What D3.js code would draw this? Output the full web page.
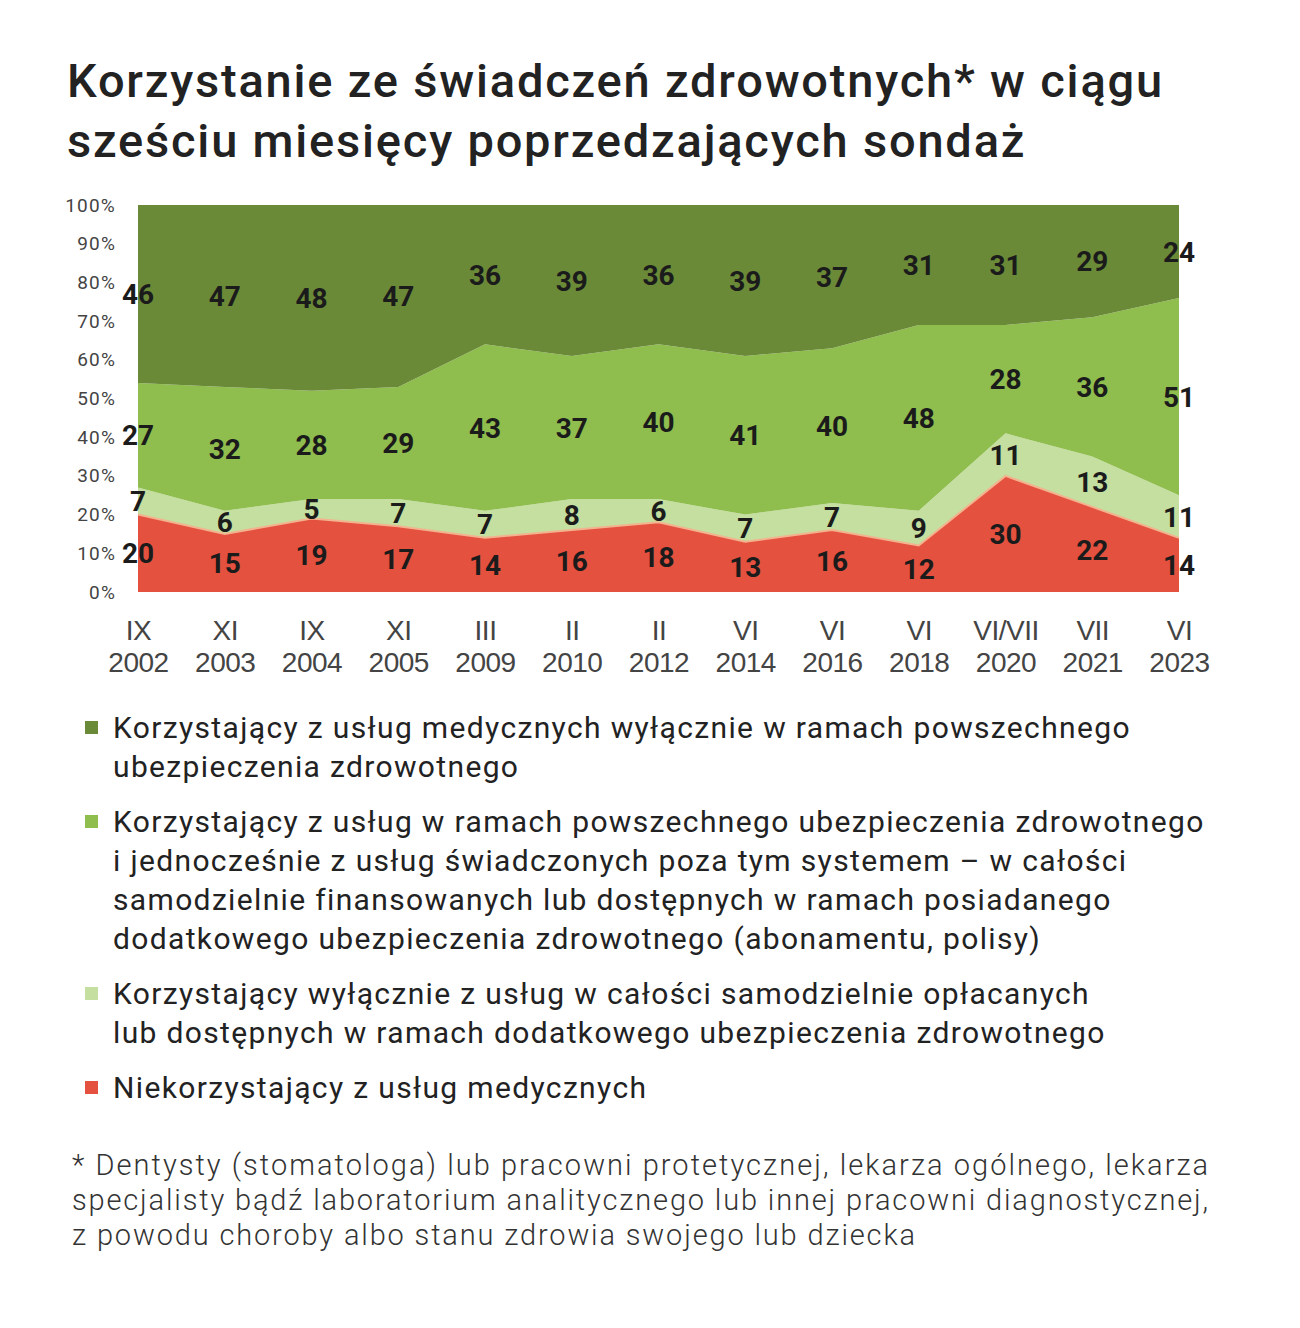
<!DOCTYPE html>
<html>
<head>
<meta charset="utf-8">
<script src="https://cdn.jsdelivr.net/npm/d3@7"></script>
<style>
  body { margin: 0; background: #fff; }
  svg { display: block; font-family: Roboto, "Noto Sans", sans-serif; }
</style>
</head>
<body>
<div id="chart"></div>
<script>
// survey waves (month + year)
var months = ["IX", "XI", "IX", "XI", "III", "II", "II", "VI", "VI", "VI", "VI/VII", "VII", "VI"];
var years = ["2002", "2003", "2004", "2005", "2009", "2010", "2012", "2014", "2016", "2018", "2020", "2021", "2023"];

// shares in %, bottom to top of the stack
var nonUsers = [20, 15, 19, 17, 14, 16, 18, 13, 16, 12, 30, 22, 14];
var privateOnly = [7, 6, 5, 7, 7, 8, 6, 7, 7, 9, 11, 13, 11];
var mixed = [27, 32, 28, 29, 43, 37, 40, 41, 40, 48, 28, 36, 51];
var publicOnly = [46, 47, 48, 47, 36, 39, 36, 39, 37, 31, 31, 29, 24];

var yTicks = [0, 10, 20, 30, 40, 50, 60, 70, 80, 90, 100];

var keys = ["nonUsers", "privateOnly", "mixed", "publicOnly"];
var colors = {
    nonUsers: "#e4513f",
    privateOnly: "#c4df9f",
    mixed: "#8fbd4e",
    publicOnly: "#6a8a38"
};

var legendItems = [
    { key: "publicOnly", lines: ["Korzystający z usług medycznych wyłącznie w ramach powszechnego", "ubezpieczenia zdrowotnego"] },
    { key: "mixed", lines: ["Korzystający z usług w ramach powszechnego ubezpieczenia zdrowotnego",
        "i jednocześnie z usług świadczonych poza tym systemem – w całości",
        "samodzielnie finansowanych lub dostępnych w ramach posiadanego",
        "dodatkowego ubezpieczenia zdrowotnego (abonamentu, polisy)"] },
    { key: "privateOnly", lines: ["Korzystający wyłącznie z usług w całości samodzielnie opłacanych",
        "lub dostępnych w ramach dodatkowego ubezpieczenia zdrowotnego"] },
    { key: "nonUsers", lines: ["Niekorzystający z usług medycznych"] }
];

var footnote = [
    "* Dentysty (stomatologa) lub pracowni protetycznej, lekarza ogólnego, lekarza",
    "specjalisty bądź laboratorium analitycznego lub innej pracowni diagnostycznej,",
    "z powodu choroby albo stanu zdrowia swojego lub dziecka"
];

var width = 1300;
var height = 1328;

var data = years.map(function(y, i) {
    return {
        id: i,
        nonUsers: nonUsers[i],
        privateOnly: privateOnly[i],
        mixed: mixed[i],
        publicOnly: publicOnly[i]
    };
});

var svg = d3.select("#chart")
    .append("svg")
    .attr("width", width)
    .attr("height", height);

// title
var title = svg.append("text")
    .attr("font-size", 47)
    .attr("font-weight", 500)
    .attr("letter-spacing", 1.8)
    .attr("fill", "#222");
title.append("tspan").attr("x", 67).attr("y", 97).text("Korzystanie ze świadczeń zdrowotnych* w ciągu");
title.append("tspan").attr("x", 67).attr("y", 157).text("sześciu miesięcy poprzedzających sondaż");

var x = d3.scalePoint()
    .domain(data.map(function(d) { return d.id; }))
    .range([138, 1179]);

var y = d3.scaleLinear()
    .domain([0, 100])
    .range([592, 205]);

var stack = d3.stack().keys(keys);
var series = stack(data);

var area = d3.area()
    .x(function(d) { return x(d.data.id); })
    .y0(function(d) { return y(d[0]); })
    .y1(function(d) { return y(d[1]); });

svg.append("g")
    .selectAll("path")
    .data(series)
    .enter().append("path")
    .attr("d", area)
    .attr("fill", function(s) { return colors[s.key]; });

// thin light seam between red and light green
svg.append("path")
    .datum(series[0])
    .attr("d", d3.line()
        .x(function(d) { return x(d.data.id); })
        .y(function(d) { return y(d[1]); }))
    .attr("fill", "none")
    .attr("stroke", "#f3b38f")
    .attr("stroke-width", 2);

// y axis labels
var yAxis = svg.append("g")
    .attr("transform", "translate(116,0)")
    .call(d3.axisLeft(y).tickValues(yTicks).tickSize(0).tickPadding(0)
        .tickFormat(function(d) { return d + "%"; }));
yAxis.select(".domain").remove();
yAxis.selectAll("text")
    .attr("font-size", 19)
    .attr("font-family", "Roboto, sans-serif")
    .attr("letter-spacing", 1.2)
    .attr("fill", "#444");

// x axis labels (two lines)
var xAxis = svg.append("g")
    .attr("transform", "translate(0,592)")
    .call(d3.axisBottom(x).tickSize(0).tickPadding(0).tickFormat(""));
xAxis.select(".domain").remove();
xAxis.selectAll(".tick").each(function(d) {
    var t = d3.select(this).append("text")
        .attr("text-anchor", "middle")
        .attr("font-size", 28)
        .attr("font-weight", 300)
        .attr("letter-spacing", -0.5)
        .attr("fill", "#444");
    t.append("tspan").attr("x", 0).attr("y", 48).text(months[d]);
    t.append("tspan").attr("x", 0).attr("y", 80).text(years[d]);
});

// value labels at band middles
series.forEach(function(s) {
    svg.append("g")
        .selectAll("text")
        .data(s)
        .enter().append("text")
        .attr("x", function(d) { return x(d.data.id); })
        .attr("y", function(d) { return y((d[0] + d[1]) / 2); })
        .attr("dy", "0.36em")
        .attr("text-anchor", "middle")
        .attr("font-size", 28)
        .attr("font-weight", 700)
        .attr("fill", "#1b1b1b")
        .text(function(d) { return d.data[s.key]; });
});

// legend
var ly = 738;
legendItems.forEach(function(item) {
    svg.append("rect")
        .attr("x", 85)
        .attr("y", ly - 17)
        .attr("width", 13)
        .attr("height", 13)
        .attr("fill", colors[item.key]);
    item.lines.forEach(function(line, j) {
        svg.append("text")
            .attr("x", 113)
            .attr("y", ly + j * 39)
            .attr("font-size", 30)
            .attr("letter-spacing", 1.35)
            .attr("fill", "#222")
            .text(line);
    });
    ly += item.lines.length * 39 + 16;
});

// footnote
footnote.forEach(function(line, i) {
    var t = svg.append("text")
        .attr("x", 72)
        .attr("y", 1175 + i * 35)
        .attr("font-size", 29)
        .attr("font-weight", 300)
        .attr("letter-spacing", 1.85)
        .attr("fill", "#333")
        .text(line);
    if (i < 2) t.attr("textLength", 1138).attr("lengthAdjust", "spacing");
});
</script>
</body>
</html>
